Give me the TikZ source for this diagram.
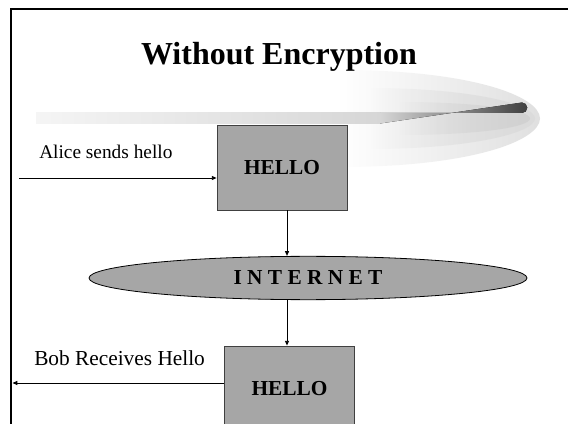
\documentclass[tikz,border=0pt]{standalone}
\usepackage{fontspec}
\setmainfont{Liberation Serif}
\usetikzlibrary{shapes.geometric,arrows.meta,fadings}
\tikzfading[name=fadeleft, left color=transparent!100, right color=transparent!0]

\begin{document}
\begin{tikzpicture}[x=0.75pt,y=-0.75pt,
    box/.style={draw=black!75, fill=black!35, line width=0.6pt, inner sep=0pt,
      minimum width=97.5pt, minimum height=63.75pt, font=\fontsize{16}{18}\selectfont\bfseries},
    cloud/.style={ellipse, draw=black, fill=black!35, line width=0.6pt, inner sep=0pt,
      minimum width=328.5pt, minimum height=32.5pt, font=\fontsize{16}{18}\selectfont\bfseries},
    lbl/.style={inner sep=0pt, anchor=base west},
    lobe/.style={path fading=fadeleft},
    arr/.style={-{Triangle[length=3.6pt,width=3pt]}, line width=0.7pt}]
  \useasboundingbox (0,0) rectangle (568,424);
  \fill[white] (0,0) rectangle (568,424);
  \draw[line width=1.6pt] (568,9) -- (11,9) -- (11,424);

  \fill[lobe, black!12]
    (340,70) .. controls (470,70) and (540,96) .. (540,118.5)
    .. controls (540,141) and (470,167) .. (340,167) -- cycle;
  \fill[lobe, black!14]
    (370,88) .. controls (470,88) and (535,104) .. (535,118.5)
    .. controls (535,133) and (470,149) .. (370,149) -- cycle;
  \fill[lobe, black!18]
    (400,102) .. controls (480,102) and (530,110) .. (530,118.5)
    .. controls (530,127) and (480,135) .. (400,135) -- cycle;
  \fill[left color=black!4, right color=black!16] (36,113) rectangle (380,123.5);
  \fill[left color=black!16, right color=black!75]
    (380,113) -- (522,113) arc (-90:90:5.25 and -5.25) -- (380,123.5) -- cycle;

  \node[inner sep=0pt, anchor=base, font=\fontsize{24}{28}\selectfont\bfseries]
    (title) at (279,65) {Without Encryption};

  \node[box] (hello1) at (282,167.5) {HELLO};
  \node[cloud] (net) at (308,278) {I N T E R N E T};
  \node[box] (hello2) at (289.5,388.5) {HELLO};

  \node[lbl, font=\fontsize{14.5}{17}\selectfont] (alice) at (39,159) {Alice sends hello};
  \node[lbl, font=\fontsize{16}{18}\selectfont] (bob) at (34,365) {Bob Receives Hello};

  \coordinate (alicestart) at (19,178);
  \coordinate (bobend) at (12.5,383);
  \coordinate (col) at (287,0);

  \draw[arr] (alicestart) -- (alicestart -| hello1.west);
  \draw[arr] (hello1.south -| col) -- (net.north -| col);
  \draw[arr] (net.south -| col) -- (hello2.north -| col);
  \draw[arr] (hello2.west |- bobend) -- (bobend);
\end{tikzpicture}
\end{document}
